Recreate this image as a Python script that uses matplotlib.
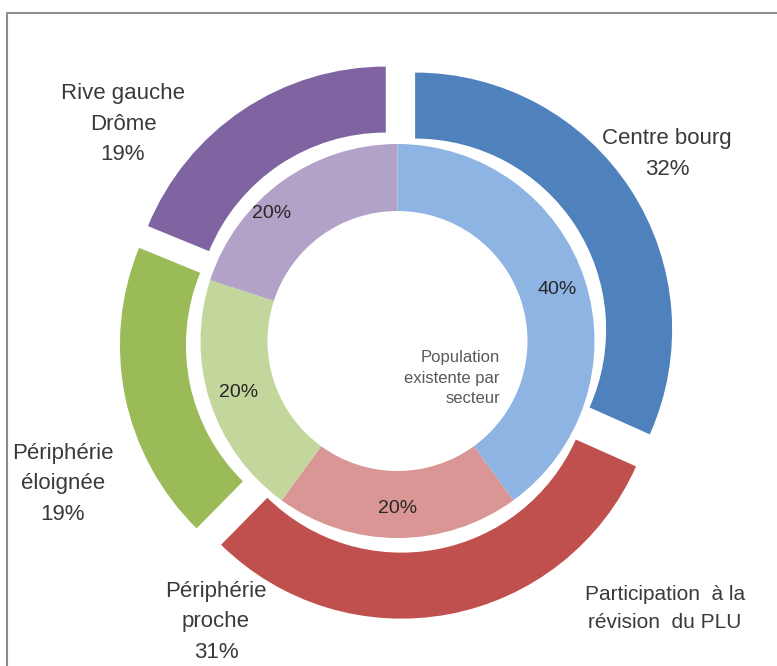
import matplotlib
matplotlib.use("Agg")
import matplotlib.pyplot as plt

plt.rcParams['font.family'] = ['Liberation Sans', 'DejaVu Sans']

# data
categories = ["Centre bourg", "Périphérie proche", "Périphérie éloignée", "Rive gauche Drôme"]
outer_vals = [32, 31, 19, 19]      # participation à la révision du PLU
inner_vals = [40, 20, 20, 20]      # population existente par secteur
outer_names = ["Centre bourg", "Périphérie\nproche", "Périphérie\néloignée", "Rive gauche\nDrôme"]

outer_colors = ["#4F81BD", "#C0504D", "#9BBB59", "#8064A2"]
inner_colors = ["#8EB4E3", "#D99694", "#C3D69B", "#B3A2C7"]

W, H = 777, 666
fig = plt.figure(figsize=(W / 100, H / 100), dpi=100)
ax = fig.add_axes([0, 0, 1, 1])

cx, cy = 397.5, H - 341

ax.pie(outer_vals, radius=257, center=(cx, cy), startangle=90, counterclock=False,
       explode=[21] * 4, colors=outer_colors,
       wedgeprops=dict(width=66, edgecolor='none'))

wedges, _, pcts = ax.pie(inner_vals, radius=197, center=(cx, cy), startangle=90,
                         counterclock=False, colors=inner_colors, autopct='%d%%',
                         pctdistance=0.85,
                         wedgeprops=dict(width=67, edgecolor='none'),
                         textprops=dict(fontsize=14, color='#262626'))
# excel puts the last label a bit further along the ring
pcts[3].set_position((272, H - 214))

ax.set_xlim(0, W)
ax.set_ylim(0, H)
ax.set_aspect('equal')
ax.axis('off')

txt = dict(fontsize=16, color='#3a3a3a', ha='center', va='center', linespacing=1.6)
# outer labels: name + percent
label_pos = [(667, 154), (216, 622), (63, 484), (123, 124)]
for name, v, (x, y) in zip(outer_names, outer_vals, label_pos):
    ax.text(x, H - y, f"{name}\n{v}%", **txt)

ax.text(665, H - 608, "Participation  à la\nrévision  du PLU", fontsize=15,
        color='#3a3a3a', ha='center', va='center', linespacing=1.6)
ax.text(500, H - 378, "Population\nexistente par\nsecteur", fontsize=12,
        color='#595959', ha='right', va='center', linespacing=1.45)

# frame around chart area (cut by image edges)
ax.plot([7, 7, W + 5], [-5, H - 13, H - 13], color='#8c8c8c', lw=1.5, clip_on=False)

fig.savefig("out.png", dpi=100)
